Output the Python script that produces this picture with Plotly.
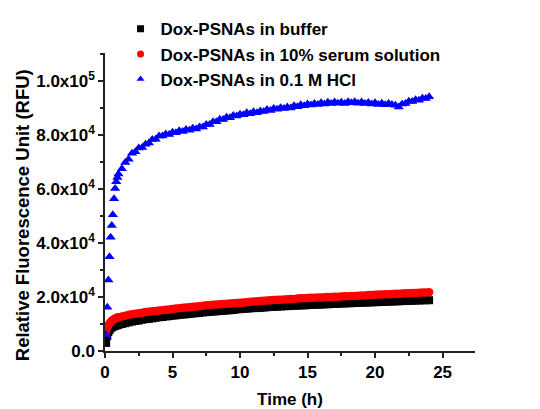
import plotly.graph_objects as go

time_h = [0.083, 0.167, 0.25, 0.333, 0.417, 0.5, 0.583, 0.667, 0.75, 0.833, 0.917, 1.0,
          1.25, 1.5, 1.75, 2.0, 2.25, 2.5, 2.75, 3.0, 3.25, 3.5, 3.75, 4.0, 4.25, 4.5, 4.75, 5.0,
          5.25, 5.5, 5.75, 6.0, 6.25, 6.5, 6.75, 7.0, 7.25, 7.5,
          7.75, 8.0, 8.25, 8.5, 8.75, 9.0, 9.25, 9.5, 9.75, 10.0,
          10.25, 10.5, 10.75, 11.0, 11.25, 11.5, 11.75, 12.0, 12.25, 12.5,
          12.75, 13.0, 13.25, 13.5, 13.75, 14.0, 14.25, 14.5, 14.75, 15.0,
          15.25, 15.5, 15.75, 16.0, 16.25, 16.5, 16.75, 17.0, 17.25, 17.5,
          17.75, 18.0, 18.25, 18.5, 18.75, 19.0, 19.25, 19.5, 19.75, 20.0,
          20.25, 20.5, 20.75, 21.0, 21.25, 21.5, 21.75, 22.0,
          22.25, 22.5, 22.75, 23.0, 23.25, 23.5, 23.75, 24.0]

buffer_rfu = [3000, 5500, 7000, 7800, 8400, 8800, 9000, 9200, 9400, 9500, 9600, 9700,
              10000, 10300, 10600, 10900, 11100, 11300, 11600, 11800, 11900, 12100, 12300, 12500, 12600, 12800, 12900, 13100,
              13200, 13400, 13500, 13600, 13700, 13900, 14000, 14100, 14300, 14400,
              14500, 14600, 14700, 14800, 14900, 15000, 15100, 15200, 15400, 15500,
              15600, 15700, 15800, 15900, 15900, 16000, 16100, 16200, 16300, 16400,
              16400, 16500, 16600, 16600, 16700, 16800, 16800, 16900, 16900, 17000,
              17100, 17100, 17200, 17200, 17300, 17300, 17400, 17400, 17500, 17600,
              17600, 17700, 17700, 17800, 17800, 17900, 17900, 18000, 18000, 18100,
              18100, 18200, 18200, 18300, 18300, 18400, 18400, 18500,
              18500, 18600, 18600, 18700, 18700, 18800, 18800, 18800]

serum_rfu = [7100, 8600, 9500, 10200, 10700, 11200, 11500, 11800, 12000, 12200, 12400, 12500,
             12800, 13100, 13400, 13600, 13800, 14000, 14200, 14400, 14500, 14700, 14800, 15000, 15100, 15300, 15400, 15600,
             15700, 15800, 16000, 16100, 16200, 16400, 16500, 16600, 16800, 16900,
             17000, 17100, 17200, 17300, 17400, 17500, 17600, 17700, 17800, 17900,
             18000, 18100, 18200, 18300, 18400, 18500, 18600, 18700, 18800, 18900,
             19000, 19000, 19100, 19200, 19300, 19300, 19400, 19500, 19500, 19600,
             19700, 19700, 19800, 19800, 19900, 20000, 20000, 20100, 20100, 20200,
             20300, 20300, 20400, 20400, 20500, 20600, 20600, 20700, 20700, 20800,
             20900, 20900, 21000, 21000, 21100, 21200, 21200, 21300,
             21400, 21400, 21500, 21500, 21600, 21700, 21700, 21800]

hcl_rfu = [6000, 16200, 26300, 34900, 42100, 46500, 50500, 56400, 60200, 62700, 64300, 65600,
           67500, 69800, 71000, 73200, 73800, 75200, 75400, 76600, 77000, 78300, 78400, 79600, 79600, 80400, 80200, 81000,
           80800, 81600, 81300, 82000, 81800, 82500, 82200, 83000, 83000, 83900,
           83900, 84900, 84900, 85800, 85700, 86600, 86400, 87200, 87000, 87700,
           87500, 88200, 87900, 88600, 88200, 88900, 88700, 89400, 89100, 89800,
           89500, 90100, 89800, 90400, 90000, 90800, 90500, 91200, 90800, 91500,
           91100, 91700, 91300, 91900, 91500, 92100, 91700, 92200, 91800, 92100,
           91700, 92300, 91900, 92300, 91800, 92200, 91700, 92000, 91500, 91900,
           91300, 91800, 91200, 91700, 91300, 91000, 90400, 91500,
           91700, 92500, 92400, 93100, 92900, 93600, 93500, 94200]

series_names = ["Dox-PSNAs in buffer", "Dox-PSNAs in 10% serum solution", "Dox-PSNAs in 0.1 M HCl"]
series_colors = ["black", "#ff0000", "#0000ff"]
series_symbols = ["square", "circle", "triangle-up"]

y_tickvals = [0, 20000, 40000, 60000, 80000, 100000]
y_ticktext = ["0.0", "2.0x10<sup>4</sup>", "4.0x10<sup>4</sup>", "6.0x10<sup>4</sup>",
              "8.0x10<sup>4</sup>", "1.0x10<sup>5</sup>"]
x_tickvals = [0, 5, 10, 15, 20, 25]
y_title = "Relative Fluorescence Unit (RFU)"
x_title = "Time (h)"

FONT = "Liberation Sans, Arial, sans-serif"

fig = go.Figure()
series_values = [buffer_rfu, serum_rfu, hcl_rfu]
marker_sizes = [8, 8.5, 9]
for name, vals, col, sym, sz in zip(series_names, series_values, series_colors, series_symbols, marker_sizes):
    fig.add_trace(go.Scatter(x=time_h, y=vals, mode="markers", name=name, showlegend=False,
                             marker=dict(symbol=sym, size=sz, color=col)))
# legend entries (small markers as in the reference legend)
for name, col, sym in zip(series_names, series_colors, series_symbols):
    fig.add_trace(go.Scatter(x=[None], y=[None], mode="markers", name=name, showlegend=True,
                             marker=dict(symbol=sym, size=7, color=col)))

fig.add_annotation(text=y_title, xref="paper", yref="paper", x=-0.224, y=0.456,
                   xanchor="center", yanchor="middle", textangle=-90, showarrow=False,
                   font=dict(family=FONT, size=18.5, color="black", weight="bold"))

fig.update_layout(
    width=540, height=409,
    margin=dict(l=105, r=65, t=53, b=58, autoexpand=False),
    paper_bgcolor="white", plot_bgcolor="white",
    font=dict(family=FONT, color="black", size=16),
    showlegend=True,
    legend=dict(
        x=0.042, y=1.14, xanchor="left", yanchor="top",
        bgcolor="rgba(0,0,0,0)",
        font=dict(family=FONT, size=17, color="black", weight="bold"),
        itemsizing="trace", tracegroupgap=0,
    ),
    xaxis=dict(
        range=[0, 27.4], showgrid=False, zeroline=False,
        showline=True, linecolor="#222", linewidth=1.5,
        ticks="outside", ticklen=5, tickwidth=1.5, tickcolor="#222",
        tickvals=x_tickvals,
        tickfont=dict(family=FONT, size=17, color="black", weight="bold"),
        minor=dict(dtick=2.5, ticks="outside", ticklen=3, tickwidth=1.5, tickcolor="#222", showgrid=False),
        title=dict(text=x_title, font=dict(family=FONT, size=17, color="black", weight="bold"), standoff=12),
    ),
    yaxis=dict(
        range=[0, 110370], showgrid=False, zeroline=False,
        showline=True, linecolor="#222", linewidth=1.5,
        ticks="outside", ticklen=5, tickwidth=1.5, tickcolor="#222",
        tickvals=y_tickvals, ticktext=y_ticktext,
        tickfont=dict(family=FONT, size=17, color="black", weight="bold"),
        minor=dict(dtick=10000, ticks="outside", ticklen=3, tickwidth=1.5, tickcolor="#222", showgrid=False),
    ),
)

fig.write_html("out.html")
